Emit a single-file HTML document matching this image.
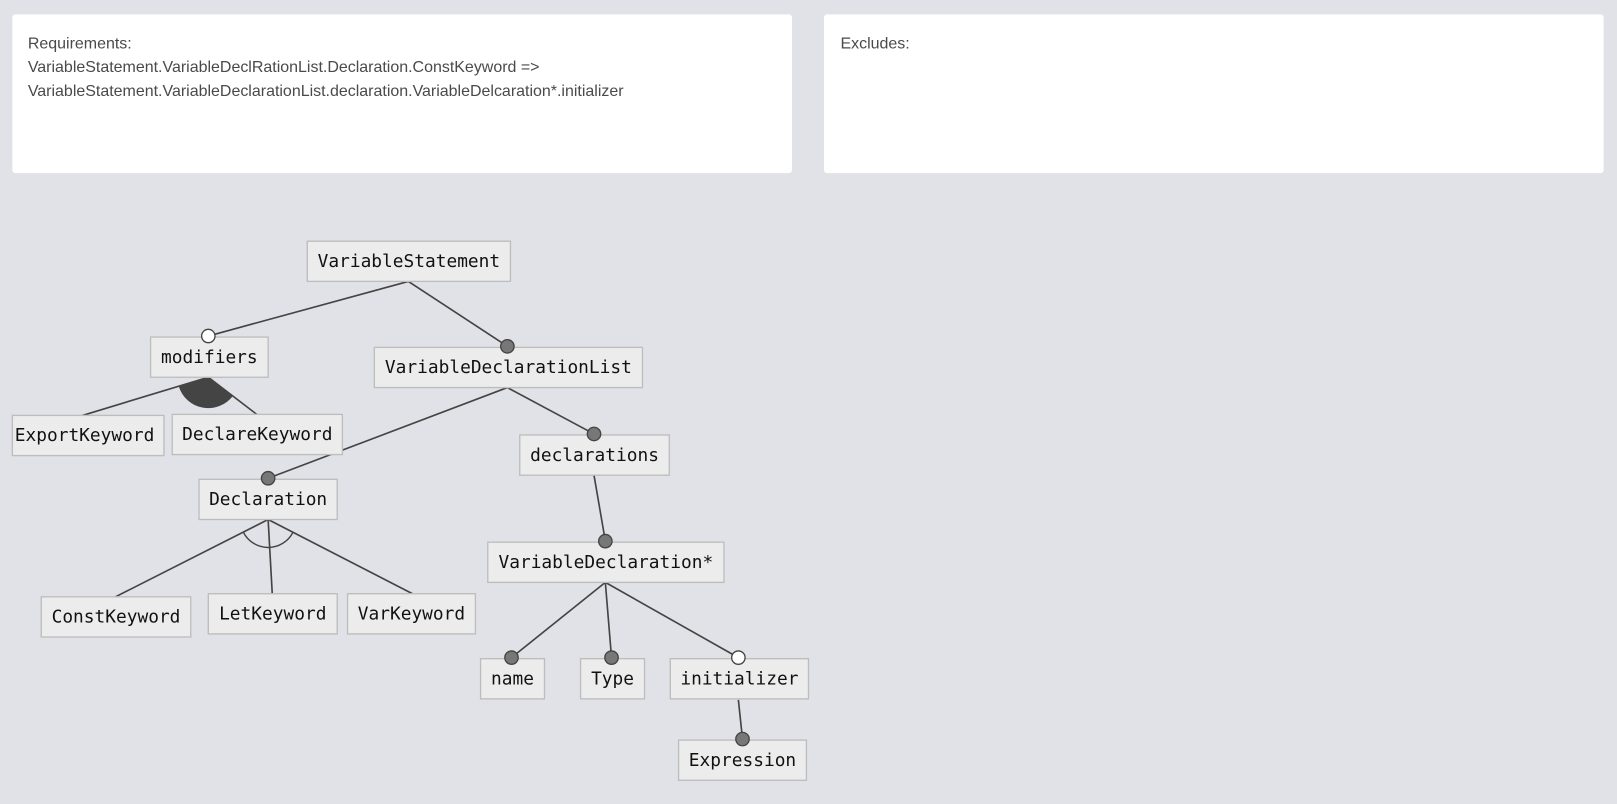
<!DOCTYPE html>
<html><head><style>
html,body{margin:0;padding:0;background:#e1e2e7;width:1617px;height:804px;overflow:hidden}
svg{display:block}
.p{font-family:"Liberation Sans",sans-serif;font-size:15.5px;fill:#4a4a4a}
.n rect{fill:#ececec;stroke:#bdbdbd;stroke-width:1.3}
.n text{font-family:"DejaVu Sans Mono","Liberation Mono",monospace;font-size:17.3px;fill:#111;text-anchor:middle}
line{stroke:#444;stroke-width:1.6}
.f{fill:#777;stroke:#444;stroke-width:1.3}
.o{fill:#fff;stroke:#444;stroke-width:1.3}
</style></head><body>
<svg width="1617" height="804" viewBox="0 0 1568 780" preserveAspectRatio="none">
<rect x="12" y="14" width="756" height="154" rx="3" fill="#fff"/>
<rect x="799" y="14" width="756" height="154" rx="3" fill="#fff"/>
<text class="p" x="27" y="47">Requirements:</text>
<text class="p" x="27" y="70">VariableStatement.VariableDeclRationList.Declaration.ConstKeyword =&gt;</text>
<text class="p" x="27" y="93">VariableStatement.VariableDeclarationList.declaration.VariableDelcaration*.initializer</text>
<text class="p" x="815" y="47">Excludes:</text>

<line x1="396" y1="273" x2="202" y2="326"/>
<line x1="396" y1="273" x2="492" y2="336"/>
<line x1="202" y1="366" x2="80" y2="403"/>
<line x1="202" y1="366" x2="249" y2="402"/>
<line x1="492" y1="376" x2="260" y2="464"/>
<line x1="492" y1="376" x2="576" y2="421"/>
<line x1="576" y1="461" x2="587" y2="525"/>
<line x1="260" y1="504" x2="112" y2="579"/>
<line x1="260" y1="504" x2="264" y2="576"/>
<line x1="260" y1="504" x2="400" y2="576"/>
<line x1="587" y1="565" x2="496" y2="638"/>
<line x1="587" y1="565" x2="593" y2="638"/>
<line x1="587" y1="565" x2="716" y2="638"/>
<line x1="716" y1="679" x2="720" y2="717"/>
<path d="M202,366 L173.3,374.7 A30,30 0 0 0 225.8,384.2 Z" fill="#444"/>
<path d="M235.9,516.2 A27,27 0 0 0 284.1,516.4" fill="none" stroke="#444" stroke-width="1.4"/>

<g class="n">
<rect x="298" y="234" width="197" height="39"/><text x="396.5" y="259">VariableStatement</text>
<rect x="146" y="327" width="114" height="39"/><text x="203" y="352">modifiers</text>
<rect x="363" y="337" width="260" height="39"/><text x="493" y="362">VariableDeclarationList</text>
<rect x="12" y="403" width="147" height="39"/><text x="82" y="428">ExportKeyword</text>
<rect x="167" y="402" width="165" height="39"/><text x="249.5" y="427">DeclareKeyword</text>
<rect x="504" y="422" width="145" height="39"/><text x="576.5" y="447">declarations</text>
<rect x="193" y="465" width="134" height="39"/><text x="260" y="490">Declaration</text>
<rect x="473" y="526" width="229" height="39"/><text x="587.5" y="551">VariableDeclaration*</text>
<rect x="40" y="579" width="145" height="39"/><text x="112.5" y="604">ConstKeyword</text>
<rect x="202" y="576" width="125" height="39"/><text x="264.5" y="601">LetKeyword</text>
<rect x="337" y="576" width="124" height="39"/><text x="399" y="601">VarKeyword</text>
<rect x="466" y="639" width="62" height="39"/><text x="497" y="664">name</text>
<rect x="563" y="639" width="62" height="39"/><text x="594" y="664">Type</text>
<rect x="650" y="639" width="134" height="39"/><text x="717" y="664">initializer</text>
<rect x="658" y="718" width="124" height="39"/><text x="720" y="743">Expression</text>
</g>

<circle class="o" cx="202" cy="326" r="6.5"/>
<circle class="f" cx="492" cy="336" r="6.5"/>
<circle class="f" cx="576" cy="421" r="6.5"/>
<circle class="f" cx="260" cy="464" r="6.5"/>
<circle class="f" cx="587" cy="525" r="6.5"/>
<circle class="f" cx="496" cy="638" r="6.5"/>
<circle class="f" cx="593" cy="638" r="6.5"/>
<circle class="o" cx="716" cy="638" r="6.5"/>
<circle class="f" cx="720" cy="717" r="6.5"/>
</svg>
</body></html>
